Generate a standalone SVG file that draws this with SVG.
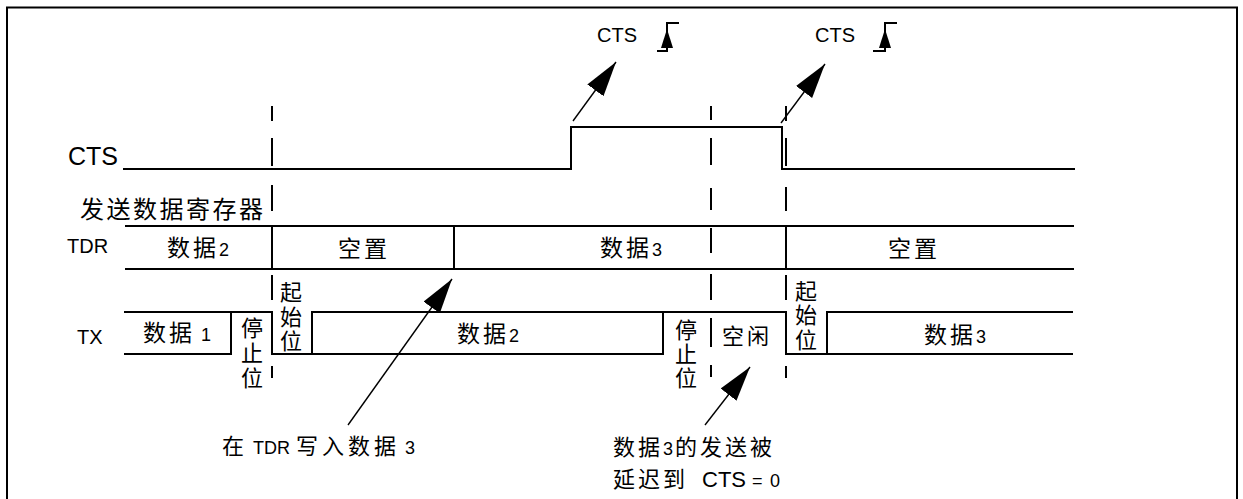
<svg xmlns="http://www.w3.org/2000/svg" width="1243" height="499" viewBox="0 0 1243 499">
<style>
.frame{fill:none;stroke:#000;stroke-width:2}
.sig{fill:none;stroke:#000;stroke-width:2;stroke-linejoin:miter}
.dash{fill:none;stroke:#000;stroke-width:2}
.arr{fill:none;stroke:#000;stroke-width:1.4;marker-end:url(#ah)}
.edge{fill:none;stroke:#000;stroke-width:2}
text{font-family:"Liberation Sans","Noto Sans CJK SC",sans-serif;fill:#000}
.lat{font-size:20px}
.cj{font-size:23px;letter-spacing:3px}
.v{font-size:22px;text-anchor:middle}
.d{font-size:18px;letter-spacing:0}
</style>
<defs>
<marker id="ah" markerUnits="userSpaceOnUse" markerWidth="37" markerHeight="22" refX="35" refY="10" orient="auto">
<path d="M0,0 L35,10 L0,20 z" fill="#000"/>
</marker>
</defs>
<rect class="frame" x="7" y="7.5" width="1230" height="510"/>

<g id="cts-signal">
<text x="68" y="165" style="font-size:25px">CTS</text>
<path class="sig" d="M123,169 H571 V127 H782 V169 H1075"/>
</g>

<g id="tdr-register">
<text x="80" y="218" style="font-size:24px;letter-spacing:2.5px">发送数据寄存器</text>
<text x="67" y="253" class="lat">TDR</text>
<path class="sig" d="M125,226 H1074 M125,269 H1074 M272,226 V269 M454,226 V269 M786,226 V269"/>
<text x="167" y="256" class="cj">数据<tspan class="d">2</tspan></text>
<text x="364" y="257" class="cj" text-anchor="middle">空置</text>
<text x="600" y="256" class="cj">数据<tspan class="d">3</tspan></text>
<text x="914" y="257" class="cj" text-anchor="middle">空置</text>
</g>

<g id="tx-line">
<text x="77" y="344" class="lat">TX</text>
<path class="sig" d="M124,312 H272 V354 H312 V312 H786 V354 H827 V312 H1073"/>
<path class="sig" d="M124,354 H231 V312 M312,354 H663 V312 M827,354 H1073 M786,354 H827"/>
<text x="143" y="341" class="cj">数据<tspan class="d" dx="6">1</tspan></text>
<text x="457" y="342" class="cj">数据<tspan class="d">2</tspan></text>
<text x="924" y="343" class="cj">数据<tspan class="d">3</tspan></text>
<text class="v"><tspan x="252" y="336">停</tspan><tspan x="252" y="361">止</tspan><tspan x="252" y="386">位</tspan></text>
<text class="v"><tspan x="291" y="300">起</tspan><tspan x="291" y="325">始</tspan><tspan x="291" y="349">位</tspan></text>
<text class="v"><tspan x="686" y="338">停</tspan><tspan x="686" y="362">止</tspan><tspan x="686" y="386">位</tspan></text>
<text x="747" y="344" class="v" style="letter-spacing:3px">空闲</text>
<text class="v"><tspan x="806" y="299">起</tspan><tspan x="806" y="323">始</tspan><tspan x="806" y="348">位</tspan></text>
</g>

<g id="guides">
<path class="dash" d="M272,106 V121 M272,138 V166 M272,185 V211 M272,275 V300 M272,366 V378"/>
<path class="dash" d="M711,106 V120 M711,138 V165 M711,188 V210 M711,228 V253 M711,274 V300 M711,318 V347 M711,365 V377"/>
<path class="dash" d="M786,106 V121 M786,138 V166 M786,187 V211 M786,275 V300 M786,366 V378"/>
</g>

<g id="cts-edge-1">
<text x="597" y="42" class="lat">CTS</text>
<path class="edge" d="M657,51 H667 V23 H679"/>
<path d="M667,29 L661,48 H673 z" fill="#000"/>
</g>
<g id="cts-edge-2">
<text x="815" y="42" class="lat">CTS</text>
<path class="edge" d="M873,51 H885 V23 H897"/>
<path d="M885,29 L879,48 H891 z" fill="#000"/>
</g>

<g id="note-write">
<text x="222" y="454" style="font-size:22px">在 <tspan x="253" class="d">TDR</tspan> <tspan x="296" style="letter-spacing:4px">写入数据</tspan><tspan x="405" class="d">3</tspan></text>
</g>
<g id="note-delay">
<text x="613" y="455" style="font-size:22px;letter-spacing:3px">数据<tspan class="d">3</tspan><tspan x="675">的发送被</tspan></text>
<text x="613" y="487" style="font-size:22px;letter-spacing:3px">延迟到 <tspan x="702" style="letter-spacing:0">CTS</tspan><tspan x="752" class="d">=</tspan><tspan x="770" class="d">0</tspan></text>
</g>

<g id="connectors">
<line class="arr" x1="573" y1="121" x2="616" y2="62"/>
<line class="arr" x1="781" y1="123" x2="825" y2="64"/>
<line class="arr" x1="348" y1="425" x2="452" y2="279"/>
<line class="arr" x1="705" y1="425" x2="750" y2="367"/>
</g>
</svg>
